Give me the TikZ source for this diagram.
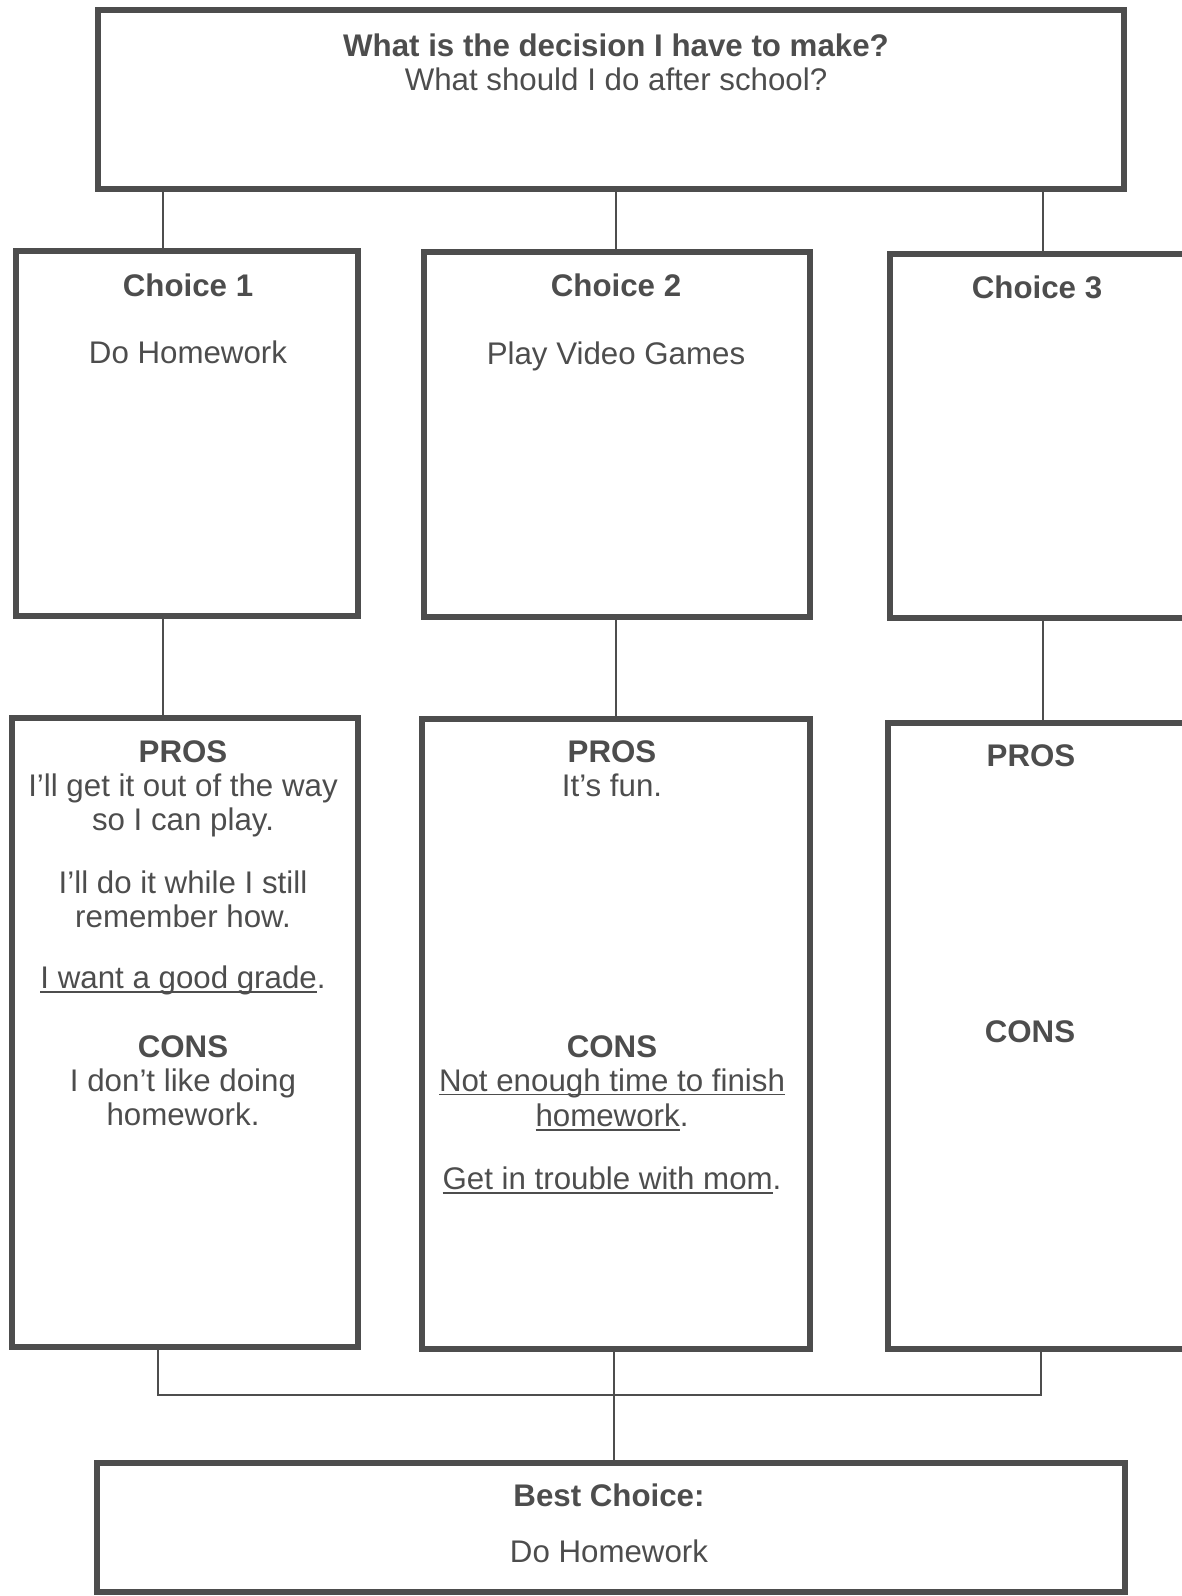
\documentclass[tikz,border=0pt]{standalone}
\usepackage{fontspec}
\setmainfont{Liberation Sans}
\usepackage{tikz}
\usetikzlibrary{calc,positioning}
\definecolor{ink}{HTML}{4D4D4D}
\newcommand\undl[1]{\leavevmode\setbox0\hbox{#1}\rlap{\rule[-2.3pt]{\wd0}{0.9pt}}\box0}

\begin{document}
\begin{tikzpicture}[x=0.02cm, y=-0.02cm,
    box/.style={draw=ink, line width=3.1pt, inner sep=0pt, outer sep=0pt},
    link/.style={draw=ink, line width=1.5pt},
    txt/.style={text=ink, align=center, anchor=north, inner sep=0pt,
                font=\fontsize{17.8}{19.4}\selectfont}]
    \useasboundingbox (0,0) rectangle (1181,1596);

    % ---- Decision ----
    \node[box, minimum width=20.52cm, minimum height=3.58cm] (decision) at (611,99.5) {};
    \node[txt] (question) at (616,33)
        {\textbf{What is the decision I have to make?}\\[0.5pt]What should I do after school?};

    % ---- Choices ----
    \node[box, minimum width=6.84cm, minimum height=7.30cm] (choice1) at (187,433.5) {};
    \node[box, minimum width=7.72cm, minimum height=7.30cm] (choice2) at (617,434.5) {};
    \node[box, minimum width=6.40cm, minimum height=7.28cm] (choice3) at (1050,436) {};

    \node[txt] (choice1txt) at (188,273) {\textbf{Choice 1}\\[19pt]Do Homework};
    \node[txt] (choice2txt) at (616,273) {\textbf{Choice 2}\\[19.5pt]Play Video Games};
    \node[txt] (choice3txt) at (1037,275) {\textbf{Choice 3}};

    % ---- Pros and cons ----
    \node[box, minimum width=6.92cm, minimum height=12.58cm] (pros1) at (185,1032.5) {};
    \node[box, minimum width=7.76cm, minimum height=12.60cm] (pros2) at (616,1034) {};
    \node[box, minimum width=6.44cm, minimum height=12.52cm] (pros3) at (1049,1036) {};

    \node[txt] (pros1txt) at (183,740) {\textbf{PROS}\\
        I’ll get it out of the way\\
        so I can play.\\[16.5pt]
        I’ll do it while I still\\
        remember how.\\[15.4pt]
        \undl{I want a good grade}.};
    \node[txt] (cons1txt) at (183,1035) {\textbf{CONS}\\
        I don’t like doing\\
        homework.};

    \node[txt] (pros2txt) at (612,740) {\textbf{PROS}\\It’s fun.};
    \node[txt] (cons2txt) at (612,1035) {\textbf{CONS}\\
        \undl{Not enough time to finish}\\[0.8pt]
        \undl{homework}.\\[16.5pt]
        \undl{Get in trouble with mom}.};

    \node[txt] (pros3txt) at (1031,744) {\textbf{PROS}};
    \node[txt] (cons3txt) at (1030,1020) {\textbf{CONS}};

    % ---- Best choice ----
    \node[box, minimum width=20.56cm, minimum height=2.58cm] (best) at (611,1527.5) {};
    \node[txt] (besttxt) at (609,1483) {\textbf{Best Choice:}\\[12.5pt]Do Homework};

    % Connectors
    \coordinate (j1) at (163,0);
    \coordinate (j2) at (616,0);
    \coordinate (j3) at (1043,0);
    \draw[link] (decision.south -| j1) -- (choice1.north -| j1);
    \draw[link] (decision.south -| j2) -- (choice2.north -| j2);
    \draw[link] (decision.south -| j3) -- (choice3.north -| j3);
    \draw[link] (choice1.south -| j1) -- (pros1.north -| j1);
    \draw[link] (choice2.south -| j2) -- (pros2.north -| j2);
    \draw[link] (choice3.south -| j3) -- (pros3.north -| j3);

    \coordinate (busL) at (158,1395);
    \coordinate (busR) at (1041,1395);
    \coordinate (jm) at (614,0);
    \draw[link] (pros1.south -| busL) |- (busR) -- (pros3.south -| busR);
    \draw[link] (pros2.south -| jm) -- (best.north -| jm);
\end{tikzpicture}
\end{document}
